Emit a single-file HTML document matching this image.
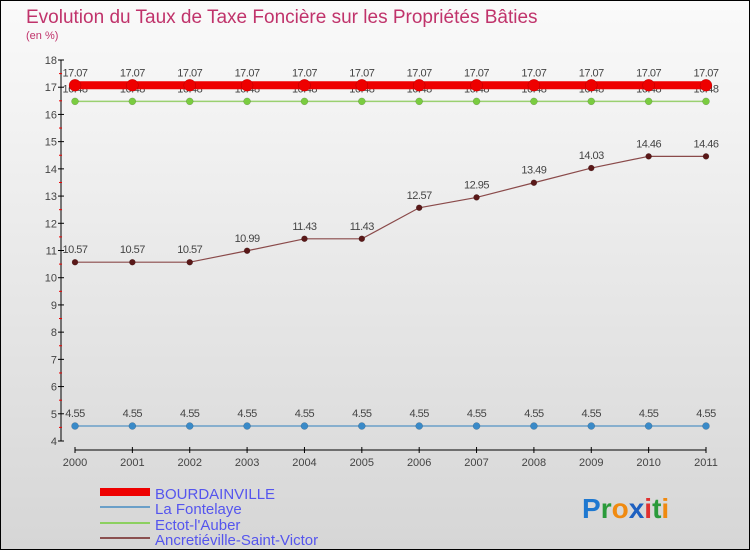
<!DOCTYPE html>
<html><head><meta charset="utf-8"><style>
body{margin:0}
#c{width:750px;height:550px;position:relative;overflow:hidden;box-sizing:border-box;border:1px solid #000;background:linear-gradient(#fafafa,#d6d6d6);font-family:"Liberation Sans",sans-serif}
</style></head><body>
<div id="c">
<svg width="750" height="550" id="s" style="position:absolute;left:-1px;top:-1px">
<text x="26" y="23" font-size="19" fill="#c0336b">Evolution du Taux de Taxe Foncière sur les Propriétés Bâties</text>
<text x="26" y="39" font-size="11" fill="#c0336b">(en %)</text>
<g id="axes"></g><g id="series"></g>
<g font-size="15" fill="#5555ee">
<rect x="100" y="488" width="50" height="8" fill="#e00"/>
<text x="155" y="499">BOURDAINVILLE</text>
<rect x="100" y="506" width="50" height="2" fill="#6a9fc8"/>
<text x="155" y="514">La Fontelaye</text>
<rect x="100" y="522" width="50" height="2" fill="#8cd060"/>
<text x="155" y="530">Ectot-l'Auber</text>
<rect x="100" y="537" width="50" height="2" fill="#8a5050"/>
<text x="155" y="545">Ancretiéville-Saint-Victor</text>
</g>
<text x="582" y="518" font-size="28" font-weight="bold"><tspan fill="#1e78d0">P</tspan><tspan fill="#2a9a3a">r</tspan><tspan fill="#f08a10">o</tspan><tspan fill="#1e60c0">x</tspan><tspan fill="#e03030">i</tspan><tspan fill="#2a9a3a">t</tspan><tspan fill="#f08a10">i</tspan></text>
</svg></div>
<script>
const years=["2000","2001","2002","2003","2004","2005","2006","2007","2008","2009","2010","2011"];
const yTicks=[4,5,6,7,8,9,10,11,12,13,14,15,16,17,18];
const bourdainville=[17.07,17.07,17.07,17.07,17.07,17.07,17.07,17.07,17.07,17.07,17.07,17.07];
const laFontelaye=[4.55,4.55,4.55,4.55,4.55,4.55,4.55,4.55,4.55,4.55,4.55,4.55];
const ectot=[16.48,16.48,16.48,16.48,16.48,16.48,16.48,16.48,16.48,16.48,16.48,16.48];
const ancretieville=[10.57,10.57,10.57,10.99,11.43,11.43,12.57,12.95,13.49,14.03,14.46,14.46];
const NS="http://www.w3.org/2000/svg";
const X=i=>75+i*(706-75)/11, Y=v=>441-(v-4)*(441-60)/14;
function mk(tag,attrs,parent,txt){const e=document.createElementNS(NS,tag);for(const k in attrs)e.setAttribute(k,attrs[k]);if(txt!=null)e.textContent=txt;parent.appendChild(e);return e;}
const ax=document.getElementById('axes'), sr=document.getElementById('series');
let e=mk('line',{x1:61,y1:60,x2:61,y2:441,stroke:'#000'},ax);


yTicks.forEach(t=>{
 mk('line',{x1:58,y1:Y(t),x2:64,y2:Y(t),stroke:'#000'},ax);
 if(t<18) mk('line',{x1:59,y1:Y(t+0.5),x2:62,y2:Y(t+0.5),stroke:'#e00'},ax);
 const l=mk('text',{x:57,y:Y(t)+4,'font-size':11,fill:'#444','text-anchor':'end'},ax,t);
 
 
});
e=mk('line',{x1:75,y1:450,x2:706,y2:450,stroke:'#000'},ax);


years.forEach((y,i)=>{
 mk('line',{x1:X(i),y1:447,x2:X(i),y2:453,stroke:'#000'},ax);
 const l=mk('text',{x:X(i),y:466,'font-size':11,fill:'#444','text-anchor':'middle'},ax,y);
 
 
});
function series(name,vals,color,w,r,dot){
 const g=mk('g',{},sr);
 
 
 mk('polyline',{points:vals.map((v,i)=>X(i)+','+Y(v)).join(' '),fill:'none',stroke:color,'stroke-width':w},g);
 vals.forEach((v,i)=>{
  const c=mk('circle',{cx:X(i),cy:Y(v),r:r,fill:dot,stroke:'rgba(0,0,0,0.25)','stroke-width':0.5},g);
  
  
  const t=mk('text',{x:X(i),y:Y(v)-9,'font-size':11,fill:'#444','text-anchor':'middle','letter-spacing':'-0.5'},g,v.toFixed(2).replace(/0$/,'').replace(/\.$/,''));
  
  
 });
}
series('la-fontelaye',laFontelaye,'#6a9fc8',1.5,3.5,'#3a8ac8');
series('ancretieville',ancretieville,'#8a4a4a',1.2,3,'#5a1818');
series('ectot',ectot,'#9ad070',1.5,3.5,'#7acc40');
series('bourdainville',bourdainville,'#e00',8,6,'#e00');
</script>
</body></html>
